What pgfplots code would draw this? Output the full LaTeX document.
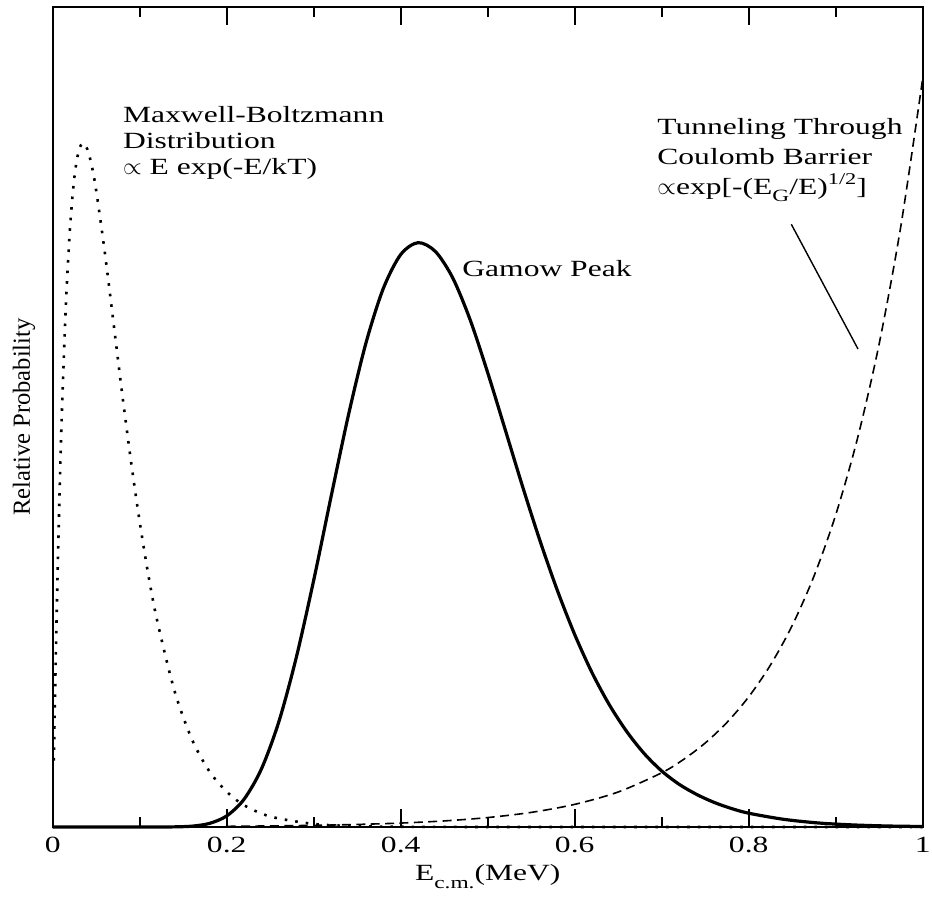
\documentclass[border=0pt]{standalone}
\usepackage{fontspec}
\setmainfont{Liberation Serif}[FakeStretch=1.36]
\newfontfamily\ylabfont{Liberation Serif}
\usepackage{graphicx}
\usepackage{pgfplots}
\pgfplotsset{compat=1.18}
\newcommand\fsA{\fontsize{11.6}{13}\selectfont}
\newcommand\sub[1]{\raisebox{-3.6pt}{\fontsize{8.6}{10}\selectfont #1}}
\newcommand\sups[1]{\raisebox{5.3pt}{\fontsize{8.2}{9}\selectfont #1}}
\begin{document}
\begin{tikzpicture}
\useasboundingbox (-26.35pt,-38pt) rectangle (439.65pt,413.5pt);
\begin{axis}[
  at={(0,0)}, anchor=south west,
  scale only axis, width=435pt, height=410pt,
  xmin=0, xmax=1, ymin=0, ymax=1,
  axis line style={line width=1pt},
  xtick={0,0.2,0.4,0.6,0.8,1},
  xticklabels={0,0.2,0.4,0.6,0.8,1},
  minor xtick={0.1,0.3,0.5,0.7,0.9},
  ytick=\empty,
  tick align=inside,
  major tick length=9pt, minor tick length=5pt,
  every tick/.append style={line width=0.8pt, black},
  every minor tick/.append style={line width=0.8pt, black},
  xticklabel style={font=\fontsize{11.6}{13}\selectfont, yshift=-1.5pt},
  clip=false,
  axis on top,
]
% Maxwell-Boltzmann (dotted)
\addplot[line width=1.3pt, line cap=butt, dash pattern=on 1.3pt off 4pt, smooth] table {
0.0013 0.081
0.003 0.178
0.006 0.327
0.010 0.487
0.015 0.633
0.020 0.732
0.025 0.793
0.030 0.825
0.035 0.834
0.040 0.826
0.045 0.806
0.050 0.776
0.060 0.700
0.070 0.614
0.080 0.527
0.090 0.446
0.100 0.372
0.110 0.307
0.120 0.252
0.140 0.166
0.160 0.107
0.180 0.068
0.200 0.043
0.220 0.0265
0.250 0.0128
0.300 0.0037
0.350 0.0010
0.400 0.0003
0.500 0.0
0.700 0.0
1.000 0.0
};
% Gamow peak (solid)
\addplot[line width=1.6pt, smooth] table {
0.00 0
0.10 0.0000
0.12 0.00001
0.14 0.00016
0.16 0.0010
0.18 0.0043
0.20 0.0135
0.22 0.0339
0.24 0.0710
0.26 0.1286
0.28 0.2068
0.30 0.3009
0.32 0.4030
0.34 0.5027
0.36 0.5900
0.38 0.6567
0.40 0.6981
0.42 0.7126
0.44 0.7017
0.46 0.6692
0.48 0.618
0.50 0.554
0.52 0.485
0.54 0.4155
0.56 0.3494
0.58 0.2887
0.60 0.2347
0.62 0.1880
0.64 0.1487
0.66 0.1161
0.68 0.0894
0.70 0.0683
0.72 0.0521
0.74 0.0398
0.76 0.0301
0.78 0.0226
0.80 0.0168
0.84 0.0094
0.88 0.0049
0.92 0.0025
0.96 0.0012
1.00 0.0006
};
% Tunneling (dashed)
\addplot[line width=0.8pt, dash pattern=on 4.5pt off 2.7pt, smooth] table {
0.20 0.0008
0.25 0.0013
0.30 0.0020
0.35 0.0031
0.40 0.0048
0.45 0.0074
0.50 0.0115
0.55 0.0178
0.60 0.0276
0.65 0.0427
0.70 0.0661
0.725 0.0823
0.75 0.1024
0.775 0.1275
0.80 0.1587
0.825 0.1975
0.85 0.2457
0.875 0.3058
0.90 0.3806
0.925 0.4737
0.95 0.5894
0.975 0.7336
1.00 0.913
};
\draw[line width=0.7pt] (axis cs:0.849,0.735) -- (axis cs:0.9256,0.583);
\node[anchor=north west, inner sep=0pt, align=left, font=\fontsize{11.6}{13}\selectfont] at (axis cs:0.0805,0.8793) {Maxwell-Boltzmann\\Distribution\\$\propto$ E exp(-E/kT)};
\node[anchor=base west, inner sep=0pt, font=\fsA] at (axis cs:0.4705,0.671) {Gamow Peak};
\node[anchor=north west, inner sep=0pt, align=left, font=\fontsize{11.6}{15}\selectfont] at (axis cs:0.6946,0.8643) {Tunneling Through\\Coulomb Barrier\\$\propto$exp[-(E\sub{G}/E)\sups{1/2}]};
\node[anchor=base, inner sep=0pt, font=\fsA] at ([yshift=-27pt]rel axis cs:0.5,0) {E\sub{c.m.}(MeV)};
\node[rotate=90, inner sep=0pt, font=\ylabfont\fontsize{12.3}{14}\selectfont] at ([xshift=-14.3pt]rel axis cs:0,0.5) {Relative Probability};
\end{axis}
\end{tikzpicture}
\end{document}
